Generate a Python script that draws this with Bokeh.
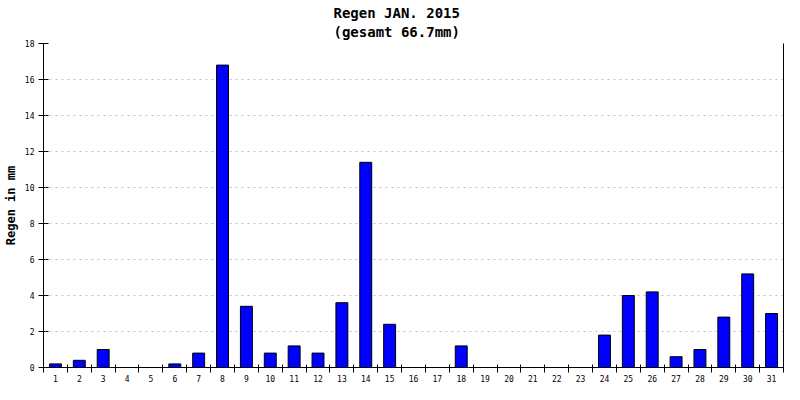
from bokeh.plotting import figure
from bokeh.models import Range1d, FixedTicker, LinearAxis
from bokeh.embed import file_html
from bokeh.resources import INLINE

days = list(range(1, 32))
day_labels = [str(d) for d in days]
rain = [0.2, 0.4, 1.0, 0.0, 0.0, 0.2, 0.8, 16.8, 3.4, 0.8,
        1.2, 0.8, 3.6, 11.4, 2.4, 0.0, 0.0, 1.2, 0.0, 0.0,
        0.0, 0.0, 0.0, 1.8, 4.0, 4.2, 0.6, 1.0, 2.8, 5.2, 3.0]
y_ticks = [0, 2, 4, 6, 8, 10, 12, 14, 16, 18]
title_text = "Regen JAN. 2015\n(gesamt 66.7mm)"
y_label = "Regen in mm"

MONO = "DejaVu Sans Mono"

p = figure(width=784, height=384, output_backend="svg", toolbar_location=None,
           x_range=Range1d(0.5, 31.5), y_range=Range1d(0, 18),
           min_border_left=35, min_border_right=1, min_border_top=36, min_border_bottom=0)
p.outline_line_color = None
p.background_fill_color = "white"
p.border_fill_color = "white"

p.vbar(x=days, top=rain, width=0.5, bottom=0, fill_color="#0000ff", line_color="black", line_width=1)

# title
p.title.text = title_text
p.title.align = "left"
p.title.offset = 290
p.title.text_font = MONO
p.title.text_font_style = "bold"
p.title.text_font_size = "14px"
p.title.text_color = "black"
p.title.text_line_height = 1.2
p.title.standoff = 6

# x axis
xa = p.xaxis[0]
xa.ticker = FixedTicker(ticks=days, minor_ticks=[d + 0.5 for d in range(0, 32)])
xa.major_label_overrides = {d: s for d, s in zip(days, day_labels)}
xa.major_tick_in = 0
xa.major_tick_out = 0
xa.minor_tick_in = 3
xa.minor_tick_out = 5
xa.minor_tick_line_color = "black"
xa.major_label_standoff = 2
xa.major_label_text_font = MONO
xa.major_label_text_font_size = "8px"
xa.major_label_text_color = "black"
xa.axis_label_standoff = 0
xa.axis_label_text_font_size = "0px"
xa.axis_line_color = "black"

# y axis
ya = p.yaxis[0]
ya.ticker = FixedTicker(ticks=y_ticks)
ya.minor_tick_line_color = None
ya.major_tick_in = 5
ya.major_tick_out = 5
ya.major_label_standoff = 4
ya.major_label_text_font = MONO
ya.major_label_text_font_size = "8px"
ya.major_label_text_color = "black"
ya.axis_label = y_label
ya.axis_label_text_font = MONO
ya.axis_label_text_font_style = "bold"
ya.axis_label_text_font_size = "12px"
ya.axis_label_text_color = "black"
ya.axis_label_standoff = 4

# right axis line
ra = LinearAxis(ticker=FixedTicker(ticks=[]), major_label_text_font_size="0px",
                major_tick_in=0, major_tick_out=0, minor_tick_in=0, minor_tick_out=0,
                major_label_standoff=0, axis_label_standoff=0, axis_label_text_font_size="0px",
                axis_line_color="black")
p.add_layout(ra, "right")

p.xgrid.grid_line_color = None
p.ygrid.grid_line_color = "#c0c0c0"
p.ygrid.grid_line_dash = "2 4"
p.ygrid.ticker = FixedTicker(ticks=y_ticks)

open("out.html", "w").write(file_html(p, INLINE))
